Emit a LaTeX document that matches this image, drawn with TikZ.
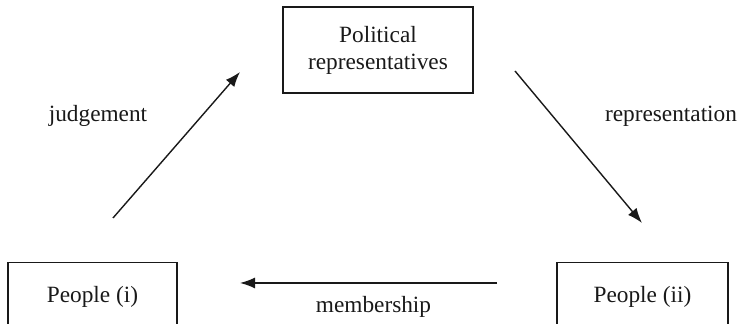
\documentclass[tikz,border=0pt]{standalone}
\usepackage{fontspec}
\setmainfont{Liberation Serif}
\usetikzlibrary{arrows.meta}
\begin{document}
\begin{tikzpicture}[x=0.5pt,y=-0.5pt,
  every node/.style={font=\fontsize{11.65}{13.5}\selectfont, text=black!90},
  box/.style={draw=black!90, line width=0.75pt, inner sep=0pt, align=center},
  lowbox/.style={box, anchor=north, minimum width=84.5pt, text height=20pt, text depth=22pt},
  link/.style={draw=black!90, line width=0.7pt, -{Latex[length=7.5pt,width=5.5pt]}},
  tag/.style={anchor=base}]
  \useasboundingbox (0,0) rectangle (741,324);
  \clip (0,0) rectangle (741,324);

  % the three actors
  \node[box, minimum width=95pt, minimum height=43pt] (reps) at (378,50)
    {Political\\representatives};
  \node[lowbox] (peoplei) at (92.5,262) {People (i)};
  \node[lowbox, minimum width=85.5pt] (peopleii) at (642.5,262) {People (ii)};

  % arrow end points
  \coordinate (j1) at (113,218);
  \coordinate (j2) at (240,72);
  \coordinate (r1) at (515,71);
  \coordinate (r2) at (642,223);
  \coordinate (m1) at (497,283);
  \coordinate (m2) at (240,283);

  \draw[link] (j1) -- (j2);
  \draw[link] (r1) -- (r2);
  \draw[link] (m1) -- (m2);

  % relation labels
  \node[tag] (ljudge) at (98,122) {judgement};
  \node[tag] (lrep) at (671,122) {representation};
  \node[tag] (lmember) at (373.5,313) {membership};
\end{tikzpicture}
\end{document}
